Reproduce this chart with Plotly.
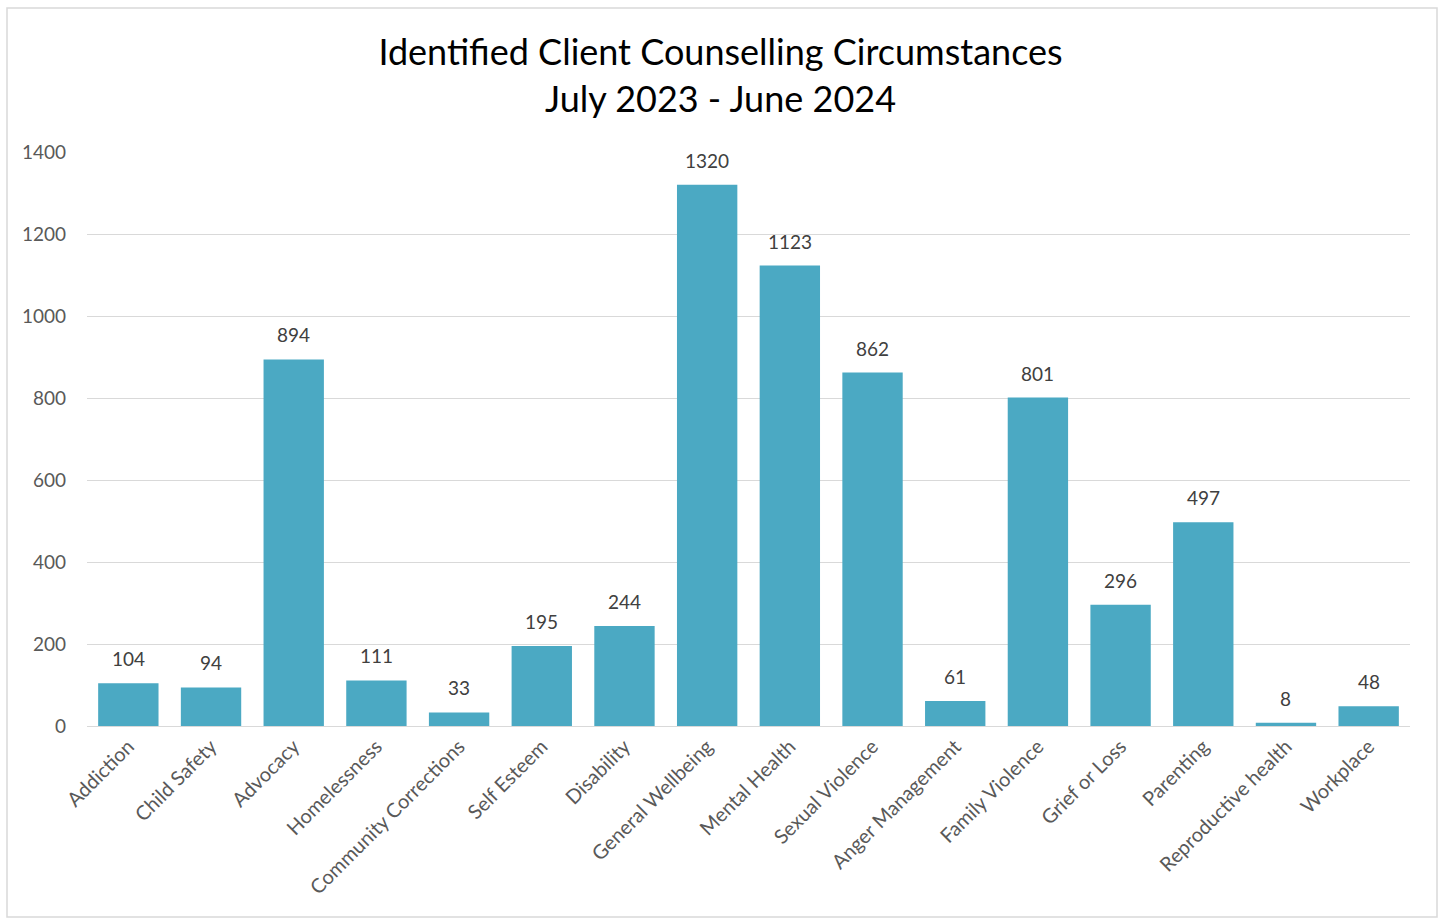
import plotly.graph_objects as go

categories = ["Addiction", "Child Safety", "Advocacy", "Homelessness", "Community Corrections",
              "Self Esteem", "Disability", "General Wellbeing", "Mental Health", "Sexual Violence",
              "Anger Management", "Family Violence", "Grief or Loss", "Parenting",
              "Reproductive health", "Workplace"]
values = [104, 94, 894, 111, 33, 195, 244, 1320, 1123, 862, 61, 801, 296, 497, 8, 48]
y_ticks = [0, 200, 400, 600, 800, 1000, 1200, 1400]

FONT = "Lato, Carlito, Calibri, sans-serif"

fig = go.Figure(go.Bar(
    x=categories, y=values,
    marker=dict(color="#4BA9C3", line=dict(width=0)),
))

for c, v in zip(categories, values):
    fig.add_annotation(x=c, y=v, text=str(v), showarrow=False, yanchor="bottom",
                       yshift=11, font=dict(family=FONT, size=19, color="#404040"))

W, H = 1441, 919
L, R, T, B = 87, 31, 152, 193
pw = W - L - R
ph = H - T - B

def px_x(p):
    return (p - L) / pw

def px_y(p):
    return (H - B - p) / ph

fig.update_layout(
    width=W, height=H,
    margin=dict(l=L, r=R, t=T, b=B, pad=0),
    paper_bgcolor="white", plot_bgcolor="white",
    bargap=0.27,
    showlegend=False,
    title=dict(text="Identified Client Counselling Circumstances<br>July 2023 - June 2024",
               x=0.5, xref="container", xanchor="center",
               y=1 - 65 / H, yref="container", yanchor="top",
               font=dict(family=FONT, size=36, color="#000000")),
    font=dict(family=FONT),
    xaxis=dict(tickangle=-45, tickfont=dict(family=FONT, size=20, color="#595959"),
               showgrid=False, showline=True, linecolor="#d9d9d9", linewidth=1,
               ticks="", ticklen=0),
    yaxis=dict(range=[0, 1400], tickvals=y_ticks, tickfont=dict(family=FONT, size=19, color="#595959"),
               showgrid=True, gridcolor="#d9d9d9", gridwidth=1, zeroline=False,
               showline=False, ticks="", ticklabelstandoff=20),
    shapes=[dict(type="rect", xref="paper", yref="paper",
                 x0=px_x(7), x1=px_x(1437), y0=px_y(917), y1=px_y(8),
                 line=dict(color="#d9d9d9", width=1.5), fillcolor="rgba(0,0,0,0)", layer="below")],
)

fig.write_html("out.html", config={"displayModeBar": False},
               post_script="document.body.style.margin='0';document.body.style.overflow='hidden';")
